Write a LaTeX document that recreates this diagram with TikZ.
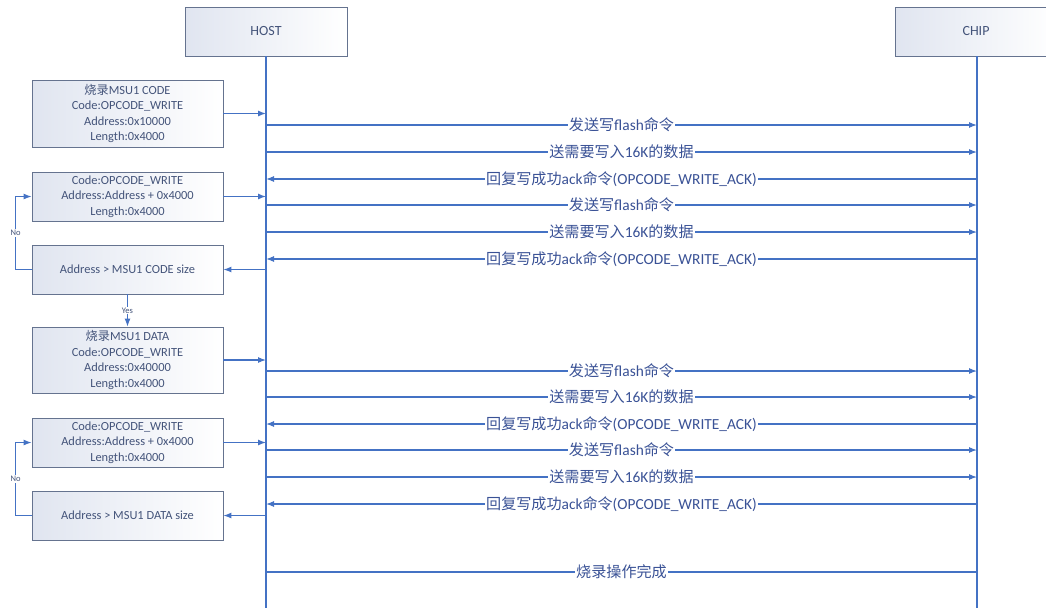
\documentclass[tikz,border=0pt]{standalone}
\usepackage{fontspec}
\setmainfont{Carlito}
\newfontfamily\cjk{Noto Sans CJK SC}[Scale=0.98]
\usetikzlibrary{arrows.meta}
\definecolor{lineblue}{HTML}{4472C4}
\definecolor{boxedge}{HTML}{65738F}
\definecolor{boxtext}{HTML}{44547A}
\definecolor{msgtext}{HTML}{3A5296}
\definecolor{boxshade}{HTML}{E0E5F0}
\tikzset{
  box/.style={draw=boxedge, line width=0.9pt, left color=boxshade, right color=white,
    minimum width=191pt, inner sep=0pt, align=center, text=boxtext,
    font=\fontsize{12.4}{15.5}\selectfont},
  actor/.style={box, minimum width=162pt, minimum height=49pt, font=\fontsize{14}{16}\selectfont},
  lifeline/.style={draw=lineblue, line width=1.1pt},
  msg/.style={draw=lineblue, line width=1.1pt},
  arr/.style={msg, -{Latex[length=8pt,width=6pt]}},
  mlbl/.style={fill=white, inner xsep=1pt, inner ysep=0pt, text=msgtext, font=\fontsize{15.4}{17}\selectfont},
  slbl/.style={fill=white, inner sep=1pt, text=boxtext, font=\fontsize{8.5}{9}\selectfont},
}
\newcommand\sendlbl{{\cjk 发送写}flash{\cjk 命令}}
\newcommand\datalbl{{\cjk 送需要写入}16K{\cjk 的数据}}
\newcommand\acklbl{{\cjk 回复写成功}ack{\cjk 命令}(OPCODE\_WRITE\_ACK)}
\begin{document}
\begin{tikzpicture}[x=1pt,y=-1pt]
\useasboundingbox (0,0) rectangle (1046,608);
\clip (0,0) rectangle (1046,608);
% actors
\node[actor] (host) at (266,31.5) {HOST};
\node[actor] (chip) at (976,31.5) {CHIP};
\coordinate (hend) at (266,608);
\coordinate (cend) at (977,608);
\draw[lifeline] (host.south) -- (hend);
\draw[lifeline] (chip.south -| cend) -- (cend);
% boxes
\node[box, minimum height=67pt] (b1) at (127.5,113.5) {{\cjk 烧录}MSU1 CODE\\Code:OPCODE\_WRITE\\Address:0x10000\\Length:0x4000};
\node[box, minimum height=49pt] (b2) at (127.5,196.5) {Code:OPCODE\_WRITE\\Address:Address + 0x4000\\Length:0x4000};
\node[box, minimum height=49pt] (b3) at (127.5,269.5) {Address > MSU1 CODE size};
\node[box, minimum height=66pt] (b4) at (127.5,360) {{\cjk 烧录}MSU1 DATA\\Code:OPCODE\_WRITE\\Address:0x40000\\Length:0x4000};
\node[box, minimum height=49pt] (b5) at (127.5,442.5) {Code:OPCODE\_WRITE\\Address:Address + 0x4000\\Length:0x4000};
\node[box, minimum height=49pt] (b6) at (127.5,515.5) {Address > MSU1 DATA size};
% host-side coordinates
\foreach \n/\y in {1/113.5,2/196.5,3/269.5,4/360,5/442.5,6/515.5}{
  \coordinate (hb\n) at (266,\y);
}
\draw[arr] (b1.east) -- (hb1);
\draw[arr] (b2.east) -- (hb2);
\draw[arr] (hb3) -- (b3.east);
\draw[arr] (b4.east) -- (hb4);
\draw[arr] (b5.east) -- (hb5);
\draw[arr] (hb6) -- (b6.east);
% loops
\draw[arr] (b3.west) -- ++(-16,0) |- node[pos=0.25,slbl]{No} (b2.west);
\draw[arr] (b6.west) -- ++(-16,0) |- node[pos=0.25,slbl]{No} (b5.west);
\draw[arr] (b3.south) -- node[slbl]{Yes} (b4.north);
% messages
\foreach \n/\y in {1/125,2/152,3/179,4/205,5/232,6/259,7/371,8/397,9/424,10/450,11/477,12/504,13/572}{
  \coordinate (mh\n) at (266,\y);
  \coordinate (mc\n) at (977,\y);
}
\draw[arr] (mh1) -- node[mlbl]{\sendlbl} (mc1);
\draw[arr] (mh2) -- node[mlbl]{\datalbl} (mc2);
\draw[arr] (mc3) -- node[mlbl]{\acklbl} (mh3);
\draw[arr] (mh4) -- node[mlbl]{\sendlbl} (mc4);
\draw[arr] (mh5) -- node[mlbl]{\datalbl} (mc5);
\draw[arr] (mc6) -- node[mlbl]{\acklbl} (mh6);
\draw[arr] (mh7) -- node[mlbl]{\sendlbl} (mc7);
\draw[arr] (mh8) -- node[mlbl]{\datalbl} (mc8);
\draw[arr] (mc9) -- node[mlbl]{\acklbl} (mh9);
\draw[arr] (mh10) -- node[mlbl]{\sendlbl} (mc10);
\draw[arr] (mh11) -- node[mlbl]{\datalbl} (mc11);
\draw[arr] (mc12) -- node[mlbl]{\acklbl} (mh12);
\draw[msg] (mh13) -- node[mlbl]{{\cjk 烧录操作完成}} (mc13);
\end{tikzpicture}
\end{document}
